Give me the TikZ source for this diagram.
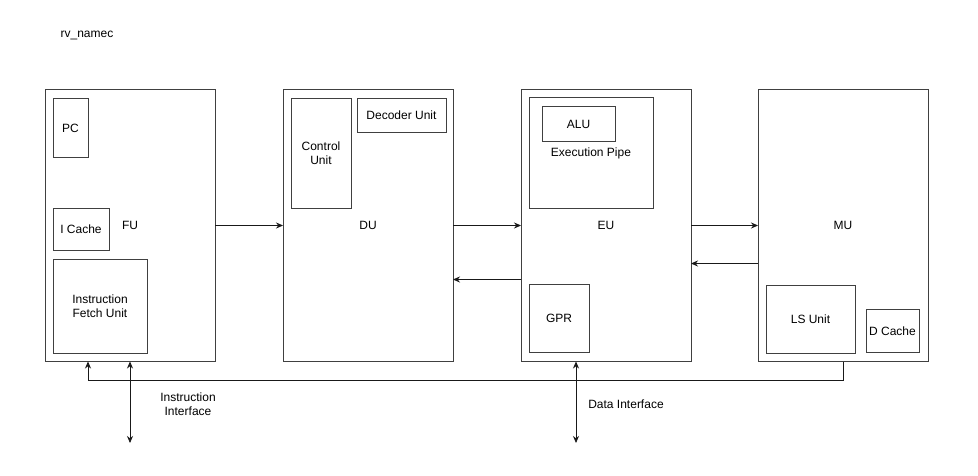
\documentclass[tikz,border=0pt]{standalone}
\usepackage{fontspec}
\setmainfont{Liberation Sans}
\usetikzlibrary{positioning,arrows.meta}
\begin{document}
\begin{tikzpicture}[x=1pt,y=-1pt,font=\fontsize{12pt}{14pt}\selectfont]
\tikzstyle{block}=[rectangle, draw=black!75, line width=1pt, inner sep=0pt, outer sep=0pt, minimum width=170pt, minimum height=272pt]
\tikzstyle{sub}=[rectangle, draw=black!75, line width=1pt, inner sep=0pt, outer sep=0pt, align=center]
\tikzstyle{connect}=[-{Stealth[length=7pt,width=6pt]}, line width=0.8pt, black!90]
\tikzstyle{bus}=[{Stealth[length=7pt,width=6pt]}-{Stealth[length=7pt,width=6pt]}, line width=0.8pt, black!90]
\useasboundingbox (0,0) rectangle (978,476);
  \node (title) at (87,35) {rv\_namec};
  \node[block] (fu) at (130,225.5) {FU};
  \node[block] (du) [right=68pt of fu] {DU};
  \node[block] (eu) [right=68pt of du] {EU};
  \node[block] (mu) [right=67pt of eu] {MU};
  % FU parts
  \node[sub, minimum width=35pt, minimum height=59pt] (pc) [below right=9pt and 8pt of fu.north west] {PC};
  \node[sub, minimum width=56pt, minimum height=42pt] (icache) [below right=119pt and 8pt of fu.north west] {I Cache};
  \node[sub, minimum width=94pt, minimum height=94pt] (ifu) [above right=8pt and 8pt of fu.south west] {Instruction\\Fetch Unit};
  % DU parts
  \node[sub, minimum width=60pt, minimum height=110pt] (cu) [below right=9pt and 8pt of du.north west] {Control\\Unit};
  \node[sub, minimum width=89pt, minimum height=34pt] (dec) [below left=9pt and 7pt of du.north east] {Decoder Unit};
  % EU parts
  \node[sub, minimum width=124pt, minimum height=111pt] (pipe) [below right=8pt and 8pt of eu.north west] {Execution Pipe};
  \node[sub, minimum width=73pt, minimum height=35pt] (alu) [below right=9pt and 13pt of pipe.north west] {ALU};
  \node[sub, minimum width=60pt, minimum height=68pt] (gpr) [above right=9pt and 8pt of eu.south west] {GPR};
  % MU parts
  \node[sub, minimum width=89pt, minimum height=68pt] (ls) [above right=8pt and 8pt of mu.south west] {LS Unit};
  \node[sub, minimum width=53pt, minimum height=43pt] (dcache) [above left=9pt and 9pt of mu.south east] {D Cache};
  \path (fu) edge [connect] (du)
        (du) edge [connect] (eu)
        (eu) edge [connect] (mu);
  \draw[connect] ([yshift=-38pt]mu.west) -- ([yshift=-38pt]eu.east);
  \draw[connect] ([yshift=-54pt]eu.west) -- ([yshift=-54pt]du.east);
  \coordinate (busr) at (843,380);
  \draw[connect] (mu.south) -- (busr) -| ([xshift=-42pt]fu.south);
  \coordinate (iport) at (130,443);
  \coordinate (dport) at (576,443);
  \draw[bus] (iport) -- (fu.south);
  \draw[bus] (dport) -- ([xshift=-30pt]eu.south);
  \node[align=center] (ilabel) at (188,404) {Instruction\\Interface};
  \node (dlabel) at (626,404) {Data Interface};
\end{tikzpicture}
\end{document}
